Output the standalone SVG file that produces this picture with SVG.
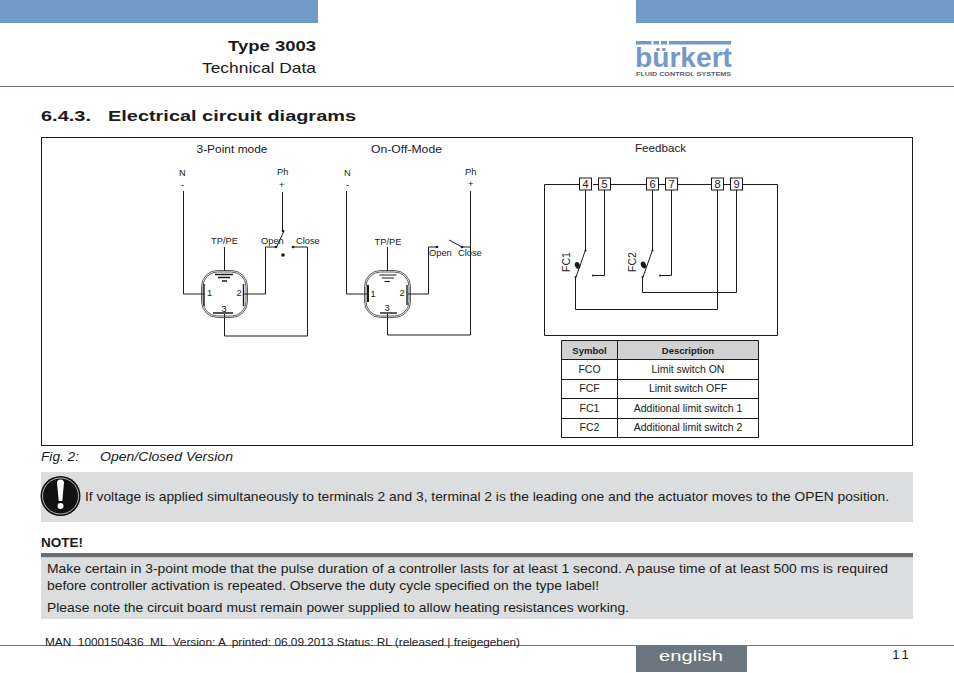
<svg xmlns="http://www.w3.org/2000/svg" width="954" height="673" viewBox="0 0 954 673">
<style>
text{font-family:"Liberation Sans",Arial,sans-serif;fill:#1a1a1a}
.w{fill:none;stroke:#1a1a1a;stroke-width:1}
.b{fill:none;stroke:#1a1a1a;stroke-width:1.4}
.o{fill:none;stroke:#333;stroke-width:.8}
.s{font-size:9.3px}
.m{font-size:11px}
.t{font-size:10.5px;text-anchor:middle}
.p{font-size:13.6px}
.d{fill:#1a1a1a}
.box{fill:#fff;stroke:#1a1a1a;stroke-width:1}
.g{fill:#dcddde}
</style>
<rect width="954" height="673" fill="#fff"/>
<g id="header">
<rect x="0" y="0" width="318" height="23" fill="#7399c6"/>
<rect x="636" y="0" width="318" height="23" fill="#7399c6"/>
<text x="316" y="51" text-anchor="end" font-size="14.5" font-weight="bold" textLength="88" lengthAdjust="spacingAndGlyphs">Type 3003</text>
<text x="316" y="73" text-anchor="end" font-size="14.5" textLength="114" lengthAdjust="spacingAndGlyphs">Technical Data</text>
<rect x="0" y="86" width="954" height="1" fill="#6b7680"/>
</g>
<g id="logo">
<text x="635" y="66.500" font-size="27" font-weight="bold" style="fill:#7399c6" textLength="97" lengthAdjust="spacingAndGlyphs">bürkert</text>
<rect x="636" y="41" width="95" height="3.500" fill="#7399c6"/>
<rect x="651.500" y="41" width="2" height="3.500" fill="#fff"/><rect x="659" y="41" width="2" height="3.500" fill="#fff"/><rect x="667" y="41" width="2" height="3.500" fill="#fff"/>
<text x="636" y="76" font-size="6" font-weight="bold" style="fill:#55606a" textLength="95" lengthAdjust="spacingAndGlyphs">FLUID CONTROL SYSTEMS</text>
</g>
<text x="41" y="121" font-size="15.500" font-weight="bold" textLength="50" lengthAdjust="spacingAndGlyphs">6.4.3.</text>
<text x="108" y="121" font-size="15.500" font-weight="bold" textLength="248" lengthAdjust="spacingAndGlyphs">Electrical circuit diagrams</text>
<rect x="41.500" y="137.500" width="871" height="308" fill="none" stroke="#1a1a1a" stroke-width="1"/>

<g id="connectors">
<path class="w" d="M183.500 191V294H204"/>
<path class="w" d="M282.500 192V231L283 231.500"/>
<path class="w" d="M284 231L276.500 247"/>
<path class="w" d="M224.500 247V271"/>
<path class="w" d="M244 294H265.500V247H276"/>
<path class="w" d="M293 247H307.500V336H224.500V314"/>
<path class="w" d="M346.500 191V294H367"/>
<path class="w" d="M387.500 247V271"/>
<path class="w" d="M408 294H428.500V247H437"/>
<path class="w" d="M470.500 191V335H387.500V314"/>
<path class="w" d="M449 240L462 247"/>
<path class="w" d="M462 247H470"/>
<path class="w" d="M544.500 184.500H579M593 184.500H598M611 184.500H646M659 184.500H665M678 184.500H711M724 184.500H730M743 184.500H777.500V335.500H544.500V184.500"/>
<path class="w" d="M585.500 190V250.500"/>
<path class="w" d="M604.500 190V275.500H593"/>
<path class="w" d="M652.500 190V250.500"/>
<path class="w" d="M671.500 190V275.500H660"/>
<path class="w" d="M717.500 190V309.500H575.500V277"/>
<path class="w" d="M736.500 190V292.500H642.500V277"/>
<path class="w" d="M585.500 250L576 277"/>
<path class="w" d="M652.500 250L643 277"/>
<g class="d"><circle cx="283" cy="231" r="1.300"/><circle cx="276" cy="247" r="1.300"/><circle cx="293" cy="247" r="1.300"/><circle cx="283" cy="255" r="1.800"/><circle cx="437" cy="247" r="1.300"/><circle cx="462" cy="247" r="1.300"/>
<circle cx="585.500" cy="250.500" r="1"/><circle cx="575.500" cy="277" r="1"/><circle cx="593" cy="275.500" r="1"/><circle cx="652.500" cy="250.500" r="1"/><circle cx="642.500" cy="277" r="1"/><circle cx="660" cy="275.500" r="1"/>
<ellipse cx="577.500" cy="265.500" rx="2.500" ry="3.500" transform="rotate(-25 577.500 265.500)"/><ellipse cx="643.500" cy="265" rx="2.500" ry="3.500" transform="rotate(-25 643.500 265)"/></g>
</g>

<g id="connector-3point">
<rect x="201.500" y="270.500" width="46" height="47" rx="16" class="o"/>
<rect x="203" y="272" width="43" height="44" rx="14.500" class="o"/>
<path class="b" d="M204 284V306M243.500 284V306M215 274.500H233M218 277.500H230M222 281H227M213 313H233"/>
<text class="s" x="207" y="296">1</text><text class="s" x="236.500" y="296">2</text><text class="s" x="221.500" y="311.500">3</text>
</g>
<g id="connector-onoff">
<rect x="364.500" y="270.500" width="46" height="47" rx="16" class="o"/>
<rect x="366" y="272" width="43" height="44" rx="14.500" class="o"/>
<path d="M368 285V302" fill="none" stroke="#1a1a1a" stroke-width="2"/>
<path class="b" d="M407 285V305"/>
<path class="w" d="M379.500 275H396.500M382 278H394M384.500 281.500H390"/>
<path class="b" d="M380 313H397"/>
<text class="s" x="370.500" y="297">1</text><text class="s" x="399.500" y="296">2</text><text class="s" x="384.500" y="310.500">3</text>
</g>
<g id="labels-3point">
<text class="m" x="196.500" y="152.500" textLength="71" lengthAdjust="spacingAndGlyphs">3-Point mode</text>
<text class="s" x="179" y="176">N</text><text class="s" x="181" y="188">-</text>
<text class="s" x="277" y="175">Ph</text><text class="s" x="279" y="188">+</text>
<text class="s" x="211" y="244">TP/PE</text><text class="s" x="261" y="244">Open</text><text class="s" x="296" y="244">Close</text>
</g>
<g id="labels-onoff">
<text class="m" x="371" y="152.500" textLength="71" lengthAdjust="spacingAndGlyphs">On-Off-Mode</text>
<text class="s" x="344" y="176">N</text><text class="s" x="346" y="188">-</text>
<text class="s" x="465" y="175">Ph</text><text class="s" x="468" y="187">+</text>
<text class="s" x="374.500" y="245">TP/PE</text><text class="s" x="429" y="256">Open</text><text class="s" x="458" y="256">Close</text>
</g>
<g id="labels-feedback">
<text class="m" x="635" y="151.500" textLength="51" lengthAdjust="spacingAndGlyphs">Feedback</text>
<text transform="translate(570 272) rotate(-90)" font-size="10.500">FC1</text>
<text transform="translate(636 272) rotate(-90)" font-size="10.500">FC2</text>
</g>
<g id="terminals" font-size="11">
<g id="t4"><rect class="box" x="579.500" y="178" width="12" height="12"/><text x="585.500" y="188" text-anchor="middle">4</text></g>
<g id="t5"><rect class="box" x="598.500" y="178" width="12" height="12"/><text x="604.500" y="188" text-anchor="middle">5</text></g>
<g id="t6"><rect class="box" x="646.500" y="178" width="12" height="12"/><text x="652.500" y="188" text-anchor="middle">6</text></g>
<g id="t7"><rect class="box" x="665.500" y="178" width="12" height="12"/><text x="671.500" y="188" text-anchor="middle">7</text></g>
<g id="t8"><rect class="box" x="711.500" y="178" width="12" height="12"/><text x="717.500" y="188" text-anchor="middle">8</text></g>
<g id="t9"><rect class="box" x="730.500" y="178" width="12" height="12"/><text x="736.500" y="188" text-anchor="middle">9</text></g>
</g>
<g id="table">
<rect x="561.500" y="340.500" width="197" height="19" fill="#cfd1d3"/>
<path fill="none" stroke="#1a1a1a" stroke-width="1" d="M561.500 340.500H758.500V437.500H561.500ZM617.500 340.500V437.500M561.500 359.500H758.500M561.500 379.500H758.500M561.500 398.500H758.500M561.500 418.500H758.500"/>
<text class="t" x="589.500" y="354" font-weight="bold" style="font-size:9.500px">Symbol</text>
<text class="t" x="688" y="354" font-weight="bold" style="font-size:9.500px">Description</text>
<text class="t" x="589.500" y="373">FCO</text><text class="t" x="688" y="373">Limit switch ON</text>
<text class="t" x="589.500" y="392">FCF</text><text class="t" x="688" y="392">Limit switch OFF</text>
<text class="t" x="589.500" y="412">FC1</text><text class="t" x="688" y="412">Additional limit switch 1</text>
<text class="t" x="589.500" y="431">FC2</text><text class="t" x="688" y="431">Additional limit switch 2</text>
</g>
<text x="41" y="461" font-size="13" font-style="italic" textLength="38" lengthAdjust="spacingAndGlyphs">Fig. 2:</text>
<text x="100" y="461" font-size="13" font-style="italic" textLength="133" lengthAdjust="spacingAndGlyphs">Open/Closed Version</text>
<g id="warning">
<rect class="g" x="41" y="472" width="872" height="50"/>
<circle cx="60.500" cy="496" r="20" fill="#111"/>
<circle cx="60.500" cy="496" r="18" fill="none" stroke="#ddd" stroke-width=".8"/>
<path d="M57 483a3.500 3.500 0 0 1 7 0L62.300 501h-3.600Z" fill="#fff"/>
<circle cx="60.500" cy="506" r="3" fill="#fff"/>
<text class="p" x="85" y="501" textLength="804" lengthAdjust="spacingAndGlyphs">If voltage is applied simultaneously to terminals 2 and 3, terminal 2 is the leading one and the actuator moves to the OPEN position.</text>
</g>
<g id="note">
<text x="41" y="547" font-size="12.500" font-weight="bold" textLength="42" lengthAdjust="spacingAndGlyphs">NOTE!</text>
<rect x="41" y="553" width="872" height="4.500" fill="#6b6e71"/>
<rect class="g" x="41" y="557.500" width="872" height="61.500"/>
<text class="p" x="47" y="573" textLength="841" lengthAdjust="spacingAndGlyphs">Make certain in 3-point mode that the pulse duration of a controller lasts for at least 1 second. A pause time of at least 500 ms is required</text>
<text class="p" x="47" y="590" textLength="552" lengthAdjust="spacingAndGlyphs">before controller activation is repeated. Observe the duty cycle specified on the type label!</text>
<text class="p" x="47" y="612" textLength="582" lengthAdjust="spacingAndGlyphs">Please note the circuit board must remain power supplied to allow heating resistances working.</text>
</g>
<g id="footer">
<rect x="0" y="645" width="954" height="1" fill="#6b7680"/>
<rect x="636" y="645" width="111" height="27" fill="#6b7680"/>
<text x="45" y="645.500" font-size="11.500" style="white-space:pre" textLength="475" lengthAdjust="spacingAndGlyphs">MAN  1000150436  ML  Version: A  printed: 06.09.2013 Status: RL (released | freigegeben)</text>
<text x="691" y="661" text-anchor="middle" font-size="15.500" style="fill:#fff" textLength="64" lengthAdjust="spacingAndGlyphs">english</text>
<text x="902" y="659" text-anchor="middle" font-size="13" letter-spacing="3">11</text>
</g>
</svg>
